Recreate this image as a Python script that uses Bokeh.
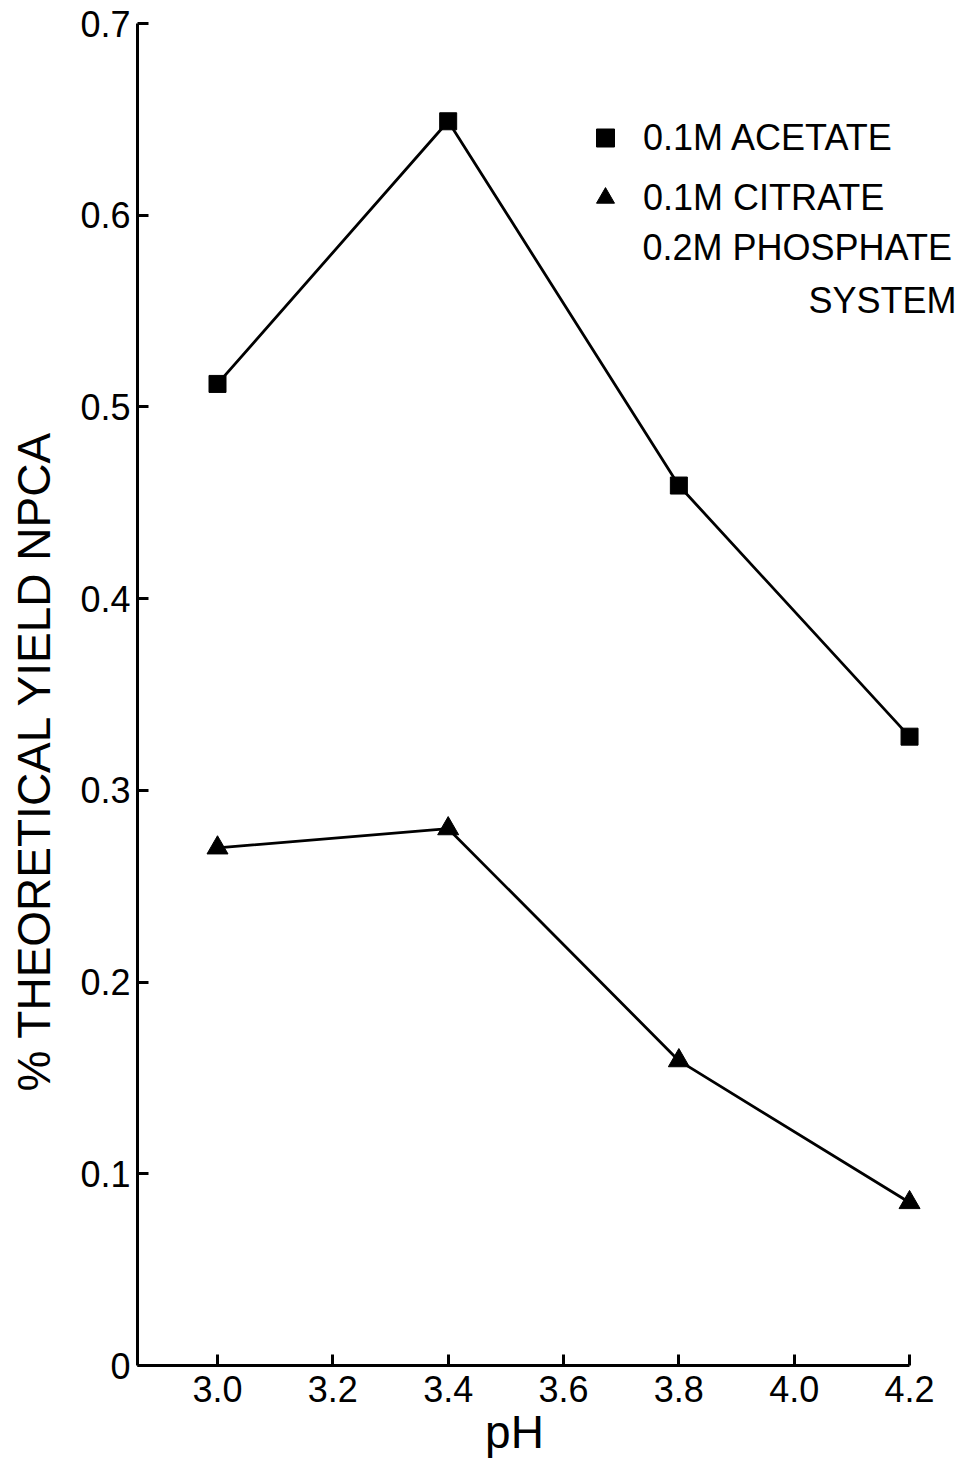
import math
from bokeh.plotting import figure
from bokeh.models import Range1d, FixedTicker, Label, Legend, LegendItem
from bokeh.embed import file_html
from bokeh.resources import INLINE

# ---- data ----
ph = [3.0, 3.4, 3.8, 4.2]
acetate = [0.512, 0.649, 0.459, 0.328]
citrate = [0.270, 0.280, 0.159, 0.085]

x_ticks = [3.0, 3.2, 3.4, 3.6, 3.8, 4.0, 4.2]
x_tick_labels = ["3.0", "3.2", "3.4", "3.6", "3.8", "4.0", "4.2"]
y_ticks = [0, 0.1, 0.2, 0.3, 0.4, 0.5, 0.6, 0.7]
y_tick_labels = ["0", "0.1", "0.2", "0.3", "0.4", "0.5", "0.6", "0.7"]

series_names = ["0.1M ACETATE", "0.1M CITRATE"]
citrate_extra_lines = ["0.2M PHOSPHATE", "SYSTEM"]
x_title = "pH"
y_title = "% THEORETICAL YIELD NPCA"

x_axis_start, x_axis_end = 2.8613, 4.2
y_axis_start, y_axis_end = 0.0, 0.7

FONT = "Liberation Sans"
W, H = 975, 1461

# pixel geometry of the axes box in the page
px_x0, px_x_per = 217.0, 576.7     # x pixel of pH 3.0, pixels per pH unit
px_y0, px_y_top = 1365.0, 23.0     # y pixel of 0 and of 0.7
y_per = (px_y0 - px_y_top) / 0.7

x_range = Range1d(3.0 - px_x0 / px_x_per, 3.0 + (W - px_x0) / px_x_per)
y_range = Range1d(-(H - px_y0) / y_per, 0.7 + px_y_top / y_per)

p = figure(width=W, height=H, output_backend="svg", toolbar_location=None,
           x_range=x_range, y_range=y_range,
           min_border_left=0, min_border_right=0, min_border_top=0, min_border_bottom=0)
p.outline_line_color = None
p.xgrid.visible = False
p.ygrid.visible = False
p.background_fill_color = "white"
p.border_fill_color = "white"

for ax, ticks, labels in ((p.xaxis[0], x_ticks, x_tick_labels), (p.yaxis[0], y_ticks, y_tick_labels)):
    ax.ticker = FixedTicker(ticks=ticks)
    ax.major_label_overrides = {t: l for t, l in zip(ticks, labels)}
    ax.minor_tick_line_color = None
    ax.major_tick_in = 11
    ax.major_tick_out = 0
    ax.major_tick_line_width = 3
    ax.axis_line_width = 3
    ax.axis_line_color = "black"
    ax.major_tick_line_color = "black"
    ax.major_label_text_font = FONT
    ax.major_label_text_font_size = "36px"
    ax.major_label_text_color = "black"

p.xaxis[0].fixed_location = y_axis_start
p.xaxis[0].bounds = (x_axis_start, x_axis_end)
p.xaxis[0].major_label_standoff = 10
p.yaxis[0].fixed_location = x_axis_start
p.yaxis[0].bounds = (y_axis_start, y_axis_end)
p.yaxis[0].major_label_standoff = 7

p.line(ph, acetate, line_color="black", line_width=2.8)
s1 = p.scatter(ph, acetate, marker="square", size=17, fill_color="black", line_color="black")
p.line(ph, citrate, line_color="black", line_width=2.8)
s2 = p.scatter(ph, citrate, marker="triangle", size=21, fill_color="black", line_color="black")

legend = Legend(items=[LegendItem(label=series_names[0], renderers=[s1]),
                       LegendItem(label=series_names[1], renderers=[s2])],
                location=(580, 1241), orientation="vertical",
                glyph_width=50, glyph_height=45, label_height=45,
                label_standoff=13, spacing=15, padding=0, margin=0,
                border_line_color=None, background_fill_alpha=0,
                label_text_font=FONT, label_text_font_size="36px", label_text_color="black")
p.add_layout(legend)

def screen_label(x, y, text, size, align="left", angle=0.0):
    return Label(x=x, y=y, x_units="screen", y_units="screen", text=text, angle=angle,
                 text_font=FONT, text_font_size=size, text_color="black",
                 text_align=align, text_baseline="middle")

p.add_layout(screen_label(642, H - 247, citrate_extra_lines[0], "36px"))
p.add_layout(screen_label(808, H - 300, citrate_extra_lines[1], "36px"))
p.add_layout(screen_label(514, H - 1431, x_title, "46px", align="center"))
p.add_layout(screen_label(33, H - 760, y_title, "46px", align="center", angle=math.pi / 2))

open("out.html", "w").write(file_html(p, INLINE))
